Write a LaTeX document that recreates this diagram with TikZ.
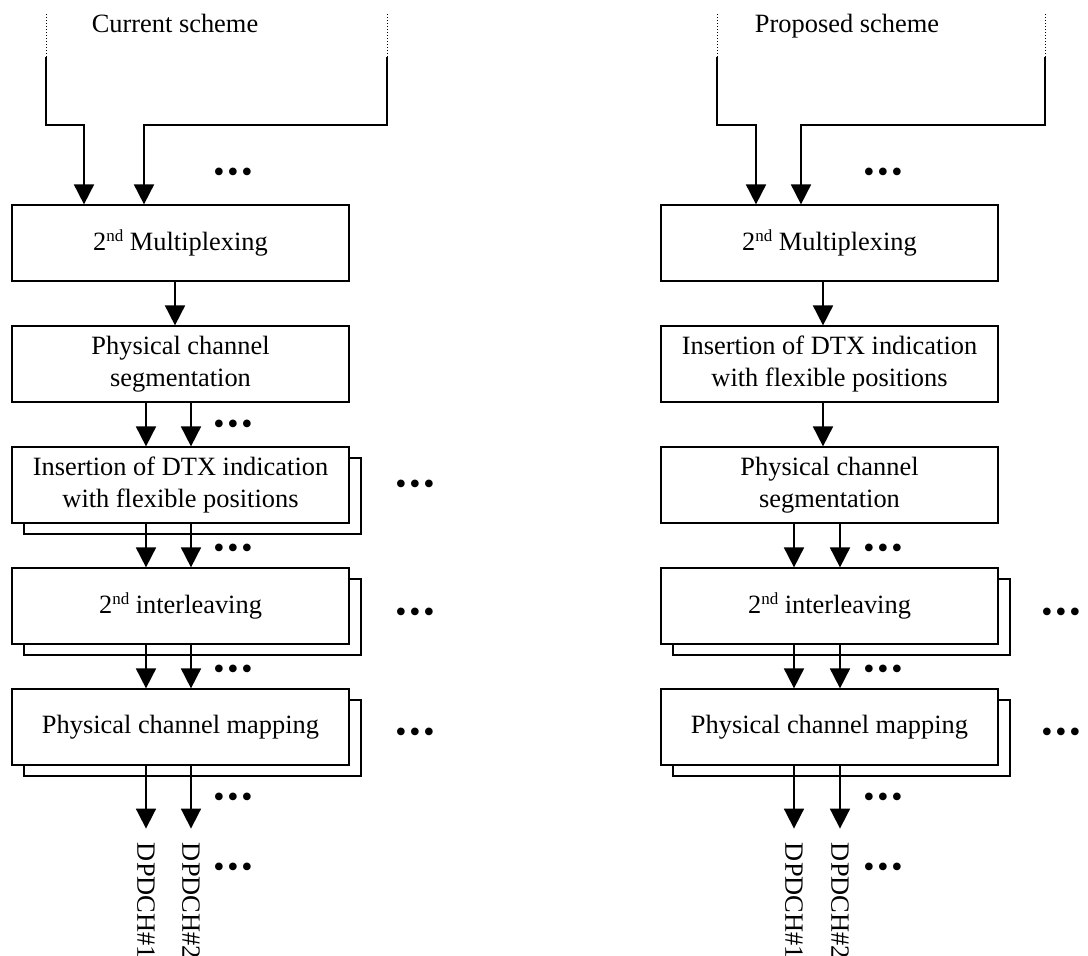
\documentclass[tikz,border=0pt]{standalone}
\usepackage{fontspec}
\setmainfont{Liberation Serif}
\usetikzlibrary{positioning,calc,shadows,arrows.meta}
\newcommand{\ord}{\raisebox{0.8ex}{\fontsize{8.5}{8.5}\selectfont nd}}
\newcommand{\etcdots}{{\fontsize{16}{16}\selectfont •\kern1.4pt•\kern1.4pt•}}
\begin{document}
\begin{tikzpicture}[x=0.5pt,y=-0.5pt,
    font=\fontsize{13.2}{16}\selectfont,
    blockbox/.style={draw,line width=0.6pt,fill=white,minimum width=168.5pt,minimum height=38pt,align=center,inner sep=2pt},
    stackbox/.style={blockbox,copy shadow={shadow xshift=6pt,shadow yshift=-5.5pt,draw=black,line width=0.6pt,fill=white}},
    flow/.style={line width=0.9pt,-{Triangle[length=10pt,width=10pt]}},
    feed/.style={densely dotted,line width=0.5pt},
    more/.style={inner sep=0pt,yshift=-2.5pt},
    chlabel/.style={rotate=-90,anchor=west,inner sep=4pt}]
    \useasboundingbox (0,0) rectangle (1088,956);
    % current scheme
    \node[anchor=base] (cur) at (175,33) {Current scheme};
    \node[blockbox] (mux1) at (180.5,243) {2\ord{} Multiplexing};
    \node[blockbox] (seg1) at (180.5,364) {Physical channel\\segmentation};
    \node[stackbox] (ins1) at (180.5,485) {Insertion of DTX indication\\with flexible positions};
    \node[stackbox] (intl1) at (180.5,606) {2\ord{} interleaving};
    \node[stackbox] (map1) at (180.5,727) {Physical channel mapping};
    \coordinate (inA1) at (46,57);
    \coordinate (inB1) at (387,57);
    \draw[feed] (inA1) -- ++(0,-45);
    \draw[feed] (inB1) -- ++(0,-45);
    \draw[flow] (inA1) -- ++(0,68) -| ($(mux1.north)+(-96.5,0)$);
    \draw[flow] (inB1) -- ++(0,68) -| ($(mux1.north)+(-36.5,0)$);
    \draw[flow] ($(mux1.south)+(-5.5,0)$) -- ($(seg1.north)+(-5.5,0)$);
    \foreach \dx in {-34.5,10.5}{
        \draw[flow] ($(seg1.south)+(\dx,0)$) -- ($(ins1.north)+(\dx,0)$);
        \draw[flow] ($(ins1.south)+(\dx,0)$) -- ($(intl1.north)+(\dx,0)$);
        \draw[flow] ($(intl1.south)+(\dx,0)$) -- ($(map1.north)+(\dx,0)$);
    }
    \node[chlabel] (ch11) at ($(map1.south)+(-34.5,69)$) {DPDCH\#1};
    \node[chlabel] (ch12) at ($(map1.south)+(10.5,69)$) {DPDCH\#2};
    \draw[flow,shorten >=3pt] ($(map1.south)+(-34.5,0)$) -- (ch11.west);
    \draw[flow,shorten >=3pt] ($(map1.south)+(10.5,0)$) -- (ch12.west);
    \node[more] (d11) at (233,170) {\etcdots};
    \node[more] (d12) at (233,422) {\etcdots};
    \node[more] (d13) at (233,546) {\etcdots};
    \node[more] (d14) at (233,667) {\etcdots};
    \node[more] (d15) at (233,795) {\etcdots};
    \node[more] (d16) at (233,865) {\etcdots};
    \node[more] (d17) at (415,482) {\etcdots};
    \node[more] (d18) at (415,610) {\etcdots};
    \node[more] (d19) at (415,730) {\etcdots};
    % proposed scheme
    \node[anchor=base] (prop) at (847,33) {Proposed scheme};
    \node[blockbox] (mux2) at (829.5,243) {2\ord{} Multiplexing};
    \node[blockbox] (ins2) at (829.5,364) {Insertion of DTX indication\\with flexible positions};
    \node[blockbox] (seg2) at (829.5,485) {Physical channel\\segmentation};
    \node[stackbox] (intl2) at (829.5,606) {2\ord{} interleaving};
    \node[stackbox] (map2) at (829.5,727) {Physical channel mapping};
    \coordinate (inA2) at (717,57);
    \coordinate (inB2) at (1045,57);
    \draw[feed] (inA2) -- ++(0,-45);
    \draw[feed] (inB2) -- ++(0,-45);
    \draw[flow] (inA2) -- ++(0,68) -| ($(mux2.north)+(-73.5,0)$);
    \draw[flow] (inB2) -- ++(0,68) -| ($(mux2.north)+(-28.5,0)$);
    \draw[flow] ($(mux2.south)+(-6.5,0)$) -- ($(ins2.north)+(-6.5,0)$);
    \draw[flow] ($(ins2.south)+(-6.5,0)$) -- ($(seg2.north)+(-6.5,0)$);
    \foreach \dx in {-35.5,10.5}{
        \draw[flow] ($(seg2.south)+(\dx,0)$) -- ($(intl2.north)+(\dx,0)$);
        \draw[flow] ($(intl2.south)+(\dx,0)$) -- ($(map2.north)+(\dx,0)$);
    }
    \node[chlabel] (ch21) at ($(map2.south)+(-35.5,69)$) {DPDCH\#1};
    \node[chlabel] (ch22) at ($(map2.south)+(10.5,69)$) {DPDCH\#2};
    \draw[flow,shorten >=3pt] ($(map2.south)+(-35.5,0)$) -- (ch21.west);
    \draw[flow,shorten >=3pt] ($(map2.south)+(10.5,0)$) -- (ch22.west);
    \node[more] (d21) at (883,170) {\etcdots};
    \node[more] (d22) at (883,546) {\etcdots};
    \node[more] (d23) at (883,667) {\etcdots};
    \node[more] (d24) at (883,795) {\etcdots};
    \node[more] (d25) at (883,865) {\etcdots};
    \node[more] (d26) at (1061,610) {\etcdots};
    \node[more] (d27) at (1061,730) {\etcdots};
\end{tikzpicture}
\end{document}
